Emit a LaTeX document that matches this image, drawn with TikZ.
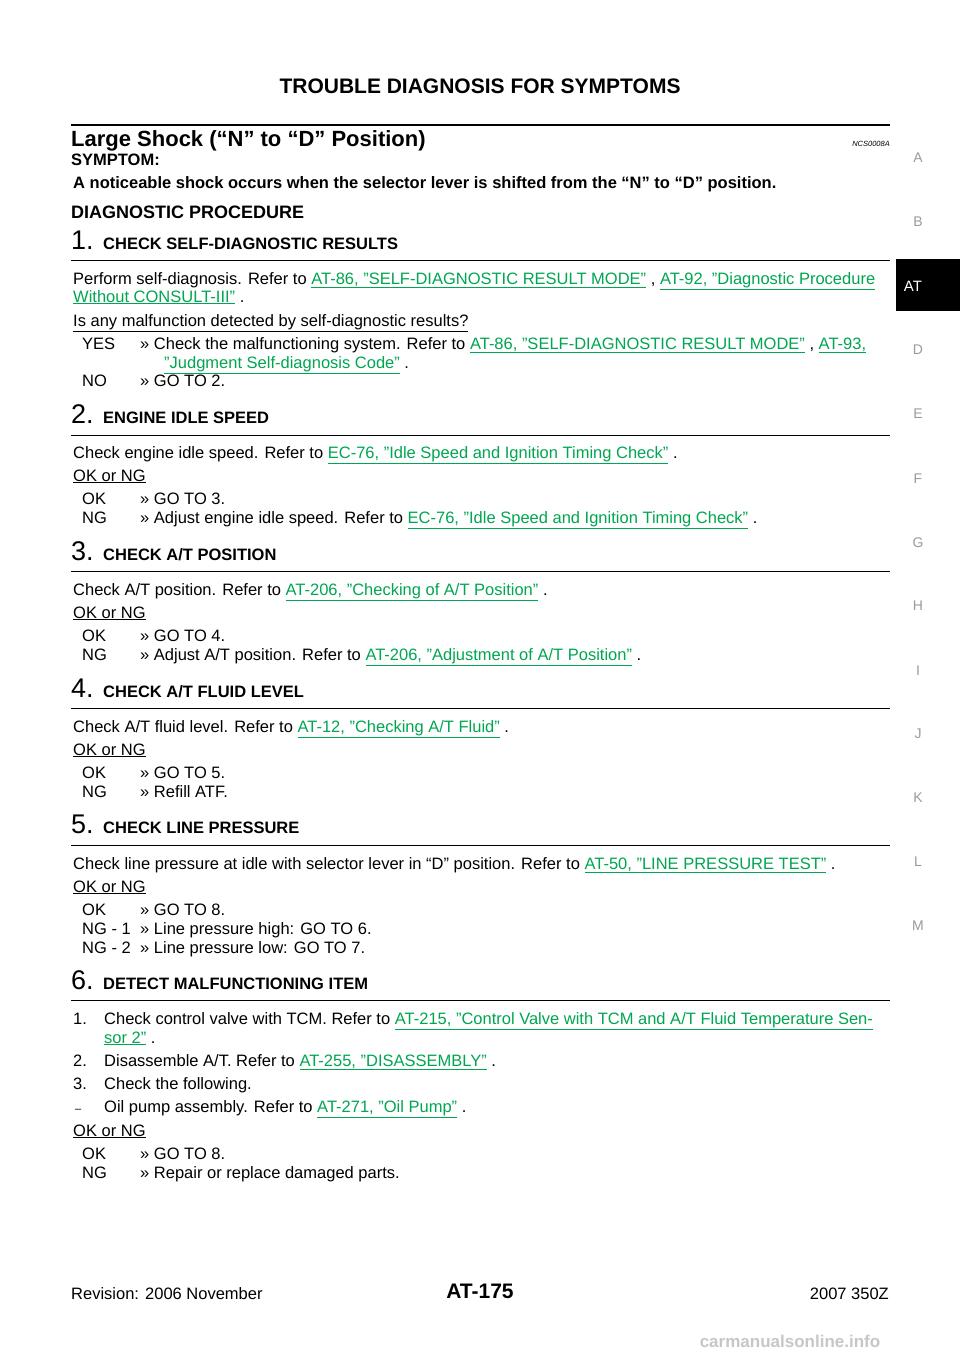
\documentclass[tikz,border=0pt]{standalone}
\usepackage{fontspec}
\setmainfont{Liberation Sans}
\definecolor{lgreen}{HTML}{00A651}
\definecolor{sgray}{HTML}{9A9A9A}
\newcommand{\lnk}[1]{{\color{lgreen}\underline{#1}}}
\tikzset{
  txt/.style={anchor=base west, inner sep=0pt, font=\fontsize{16.5}{20}\selectfont},
  head/.style={anchor=base west, inner sep=0pt, font=\fontsize{16.5}{20}\selectfont\bfseries},
  num/.style={anchor=base west, inner sep=0pt, font=\fontsize{27}{30}\selectfont},
  side/.style={anchor=center, inner sep=0pt, text=sgray, font=\fontsize{14}{16}\selectfont},
  rule/.style={line width=0.9pt}
}
\begin{document}
\begin{tikzpicture}[x=1pt, y=-1pt]
  \useasboundingbox[fill=white] (0,0) rectangle (960,1358);
  % page header
  \node (title) [anchor=base, inner sep=0pt, font=\fontsize{21}{24}\selectfont\bfseries] at (480,93) {TROUBLE DIAGNOSIS FOR SYMPTOMS};
  \draw [line width=2.2pt] (71,125) -- (890,125);
  \node (shock) [anchor=base west, inner sep=0pt, font=\fontsize{22}{26}\selectfont\bfseries] at (71,146) {Large Shock (“N” to “D” Position)};
  \node (code) [anchor=base east, inner sep=0pt, font=\fontsize{7.5}{9}\selectfont\itshape] at (890,146) {NCS0008A};
  \node (symp) [head] at (71,165) {SYMPTOM:};
  \node (sdesc) [head] at (73,188) {A noticeable shock occurs when the selector lever is shifted from the “N” to “D” position.};
  \node (diag) [anchor=base west, inner sep=0pt, font=\fontsize{18}{22}\selectfont\bfseries] at (71,218) {DIAGNOSTIC PROCEDURE};
  % step 1
  \node (n1) [num] at (71,249) {1.};
  \node (h1) [head] at (103,249) {CHECK SELF-DIAGNOSTIC RESULTS};
  \draw [rule] (71,260) -- (890,260);
  \node [txt] at (73,284) {Perform self-diagnosis. Refer to \lnk{AT-86, "SELF-DIAGNOSTIC RESULT MODE"} , \lnk{AT-92, "Diagnostic Procedure}};
  \node [txt] at (73,302) {\lnk{Without CONSULT-III"} .};
  \node [txt] at (73,326) {\underline{Is any malfunction detected by self-diagnostic results?}};
  \node [txt] at (82,349) {YES};
  \node [txt] at (140,349) {>> Check the malfunctioning system. Refer to \lnk{AT-86, "SELF-DIAGNOSTIC RESULT MODE"} , \lnk{AT-93,}};
  \node [txt] at (164,368) {\lnk{"Judgment Self-diagnosis Code"} .};
  \node [txt] at (82,386) {NO};
  \node [txt] at (140,386) {>> GO TO 2.};
  % step 2
  \node (n2) [num] at (71,423) {2.};
  \node (h2) [head] at (103,423) {ENGINE IDLE SPEED};
  \draw [rule] (71,435) -- (890,435);
  \node [txt] at (73,458) {Check engine idle speed. Refer to \lnk{EC-76, "Idle Speed and Ignition Timing Check"} .};
  \node [txt] at (73,481) {\underline{OK or NG}};
  \node [txt] at (82,504) {OK};
  \node [txt] at (140,504) {>> GO TO 3.};
  \node [txt] at (82,523) {NG};
  \node [txt] at (140,523) {>> Adjust engine idle speed. Refer to \lnk{EC-76, "Idle Speed and Ignition Timing Check"} .};
  % step 3
  \node (n3) [num] at (71,560) {3.};
  \node (h3) [head] at (103,560) {CHECK A/T POSITION};
  \draw [rule] (71,571) -- (890,571);
  \node [txt] at (73,595) {Check A/T position. Refer to \lnk{AT-206, "Checking of A/T Position"} .};
  \node [txt] at (73,618) {\underline{OK or NG}};
  \node [txt] at (82,641) {OK};
  \node [txt] at (140,641) {>> GO TO 4.};
  \node [txt] at (82,660) {NG};
  \node [txt] at (140,660) {>> Adjust A/T position. Refer to \lnk{AT-206, "Adjustment of A/T Position"} .};
  % step 4
  \node (n4) [num] at (71,697) {4.};
  \node (h4) [head] at (103,697) {CHECK A/T FLUID LEVEL};
  \draw [rule] (71,708) -- (890,708);
  \node [txt] at (73,732) {Check A/T fluid level. Refer to \lnk{AT-12, "Checking A/T Fluid"} .};
  \node [txt] at (73,755) {\underline{OK or NG}};
  \node [txt] at (82,778) {OK};
  \node [txt] at (140,778) {>> GO TO 5.};
  \node [txt] at (82,797) {NG};
  \node [txt] at (140,797) {>> Refill ATF.};
  % step 5
  \node (n5) [num] at (71,833) {5.};
  \node (h5) [head] at (103,833) {CHECK LINE PRESSURE};
  \draw [rule] (71,845) -- (890,845);
  \node [txt] at (73,869) {Check line pressure at idle with selector lever in “D” position. Refer to \lnk{AT-50, "LINE PRESSURE TEST"} .};
  \node [txt] at (73,892) {\underline{OK or NG}};
  \node [txt] at (82,915) {OK};
  \node [txt] at (140,915) {>> GO TO 8.};
  \node [txt] at (82,934) {NG - 1};
  \node [txt] at (140,934) {>> Line pressure high: GO TO 6.};
  \node [txt] at (82,953) {NG - 2};
  \node [txt] at (140,953) {>> Line pressure low: GO TO 7.};
  % step 6
  \node (n6) [num] at (71,989) {6.};
  \node (h6) [head] at (103,989) {DETECT MALFUNCTIONING ITEM};
  \draw [rule] (71,1000) -- (890,1000);
  \node [txt] at (73,1024) {1.};
  \node [txt] at (104,1024) {Check control valve with TCM. Refer to \lnk{AT-215, "Control Valve with TCM and A/T Fluid Temperature Sen-}};
  \node [txt] at (104,1043) {\lnk{sor 2"} .};
  \node [txt] at (73,1066) {2.};
  \node [txt] at (104,1066) {Disassemble A/T. Refer to \lnk{AT-255, "DISASSEMBLY"} .};
  \node [txt] at (73,1089) {3.};
  \node [txt] at (104,1089) {Check the following.};
  \node [txt, font=\fontsize{11}{12}\selectfont] at (75,1112) {–};
  \node [txt] at (104,1112) {Oil pump assembly. Refer to \lnk{AT-271, "Oil Pump"} .};
  \node [txt] at (73,1136) {\underline{OK or NG}};
  \node [txt] at (82,1159) {OK};
  \node [txt] at (140,1159) {>> GO TO 8.};
  \node [txt] at (82,1178) {NG};
  \node [txt] at (140,1178) {>> Repair or replace damaged parts.};
  % footer
  \node (rev) [txt] at (71,1299) {Revision: 2006 November};
  \node (page) [anchor=base, inner sep=0pt, font=\fontsize{21}{24}\selectfont\bfseries] at (480,1298) {AT-175};
  \node (model) [anchor=base east, inner sep=0pt, font=\fontsize{16.5}{20}\selectfont] at (889,1299) {2007 350Z};
  \node (wm) [anchor=base, inner sep=0pt, text=black!22, font=\fontsize{17}{20}\selectfont\bfseries] at (790,1347) {carmanualsonline.info};
  % side index
  \fill [black] (896,259) rectangle (960,311);
  \node (tab) [anchor=center, inner sep=0pt, text=white, font=\fontsize{15}{18}\selectfont] at (913,286) {AT};
  \foreach \l/\y in {A/158,B/222,D/350,E/414,F/479,G/543,H/606,I/671,J/734,K/798,L/862,M/926}
    \node [side] at (918,\y) {\l};
\end{tikzpicture}
\end{document}
